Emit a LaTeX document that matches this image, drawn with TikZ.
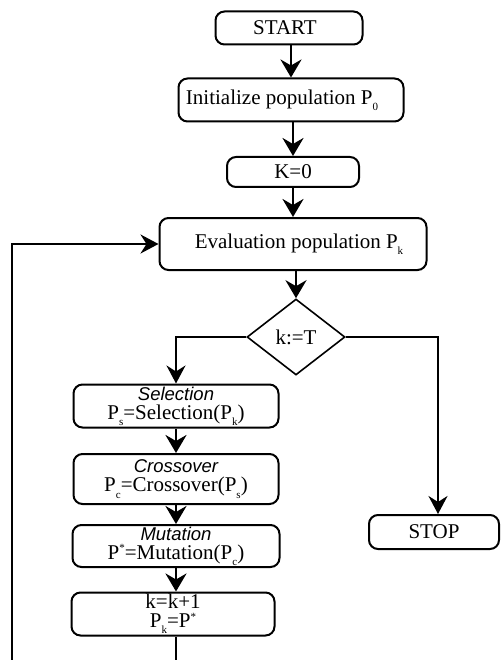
\documentclass[tikz,border=0pt]{standalone}
\usepackage{fontspec}
\setmainfont{Liberation Serif}
\newfontfamily\itsans{Liberation Sans}
\usetikzlibrary{arrows.meta,shapes.geometric}
\newcommand{\sbs}[1]{\raisebox{-0.3em}{\fontsize{11}{11}\selectfont #1}}
\newcommand{\sps}[1]{\raisebox{0.35em}{\fontsize{11}{11}\selectfont #1}}
\newcommand{\itl}[1]{{\itsans\itshape\fontsize{18.5}{19}\selectfont #1}}
\begin{document}
\begin{tikzpicture}[x=1pt,y=-1pt,
  box/.style={draw, line width=2pt, rounded corners=9pt, inner sep=0pt,
    align=center, font=\fontsize{21}{19}\selectfont},
  dec/.style={draw, diamond, line width=1.6pt, inner sep=0pt,
    minimum width=98pt, minimum height=76pt, font=\fontsize{21}{21}\selectfont},
  arr/.style={-{Stealth[length=18pt,width=21pt,inset=6pt]}, line width=2.8pt},
  arrt/.style={-{Stealth[length=18pt,width=19pt,inset=6pt]}, line width=2.2pt}]
\useasboundingbox (0,0) rectangle (500,660);
\node[box, minimum width=147pt, minimum height=33pt] (start) at (289,28) {START\hspace*{8pt}};
\node[box, minimum width=225pt, minimum height=43pt] (init) at (291,100) {Initialize population P\sbs{0}\hspace*{18pt}};
\node[box, minimum width=132pt, minimum height=30pt] (k0) at (293,172) {K=0};
\node[box, minimum width=267pt, minimum height=52pt] (eval) at (293,244) {\hspace*{12pt}Evaluation population P\sbs{k}};
\node[dec] (dec) at (296,337) {k:=T};
\node[box, minimum width=205pt, minimum height=43pt] (sel) at (176,406) {\itl{Selection}\\P\sbs{s}=Selection(P\sbs{k})};
\node[box, minimum width=205pt, minimum height=50pt] (cro) at (176,479) {\itl{Crossover}\\P\sbs{c}=Crossover(P\sbs{s})};
\node[box, minimum width=207pt, minimum height=42pt] (mut) at (176,546) {\itl{Mutation}\\P\sps{*}=Mutation(P\sbs{c})};
\node[box, minimum width=203pt, minimum height=43pt] (kk) at (173,614) {k=k+1\\P\sbs{k}=P\sps{*}};
\node[box, minimum width=130pt, minimum height=34pt] (stop) at (434,532) {STOP};
\coordinate (lb) at (12,700);
\draw[arr] (start.south -| init.north) -- (init.north);
\draw[arr] (init.south -| k0.north) -- (k0.north);
\draw[arr] (k0.south) -- (k0.south |- eval.north);
\draw[arr] (eval.south -| dec.north) -- (dec.north);
\draw[arrt] (dec.west) -| (sel.north);
\draw[arrt] (dec.east) -| ([xshift=4pt]stop.north);
\draw[arr] (sel.south) -- (cro.north);
\draw[arr] (cro.south) -- (mut.north);
\draw[arr] (mut.south) -- (mut.south |- kk.north);
\draw[arrt] (kk.south -| mut.south) |- (lb) |- (eval.west);
\end{tikzpicture}
\end{document}
